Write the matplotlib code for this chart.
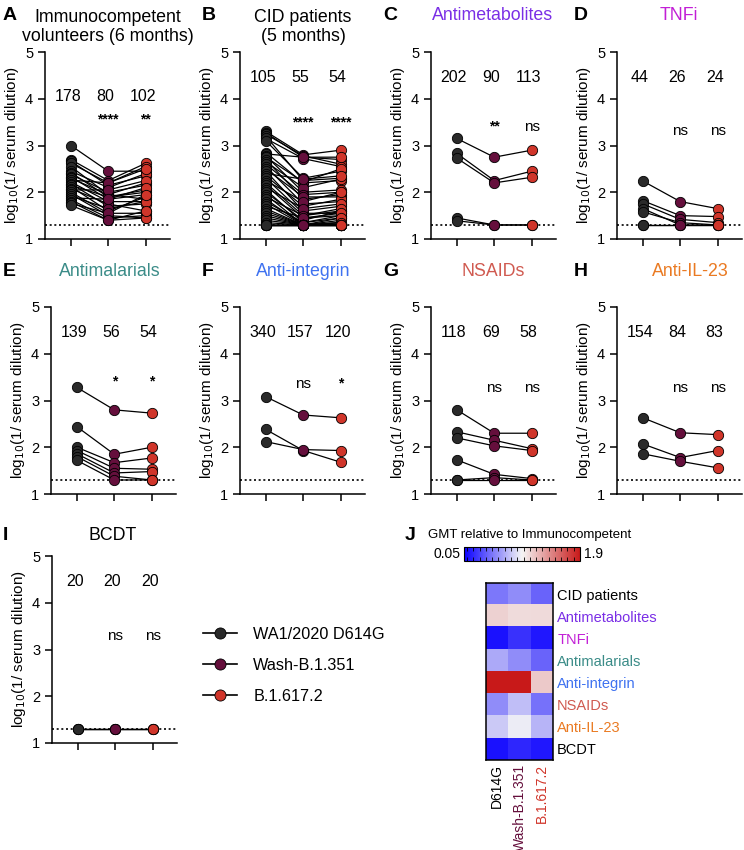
import numpy as np
import matplotlib
matplotlib.use("Agg")
import matplotlib.pyplot as plt
from matplotlib.colors import LinearSegmentedColormap
from matplotlib.lines import Line2D

plt.rcParams['font.family'] = ['Liberation Sans', 'DejaVu Sans']

variants = ["WA1/2020 D614G", "Wash-B.1.351", "B.1.617.2"]
variant_colors = ["#2a2a2a", "#650f3c", "#d0352a"]
lod = 1.3

# panel A - immunocompetent volunteers
a_d614g = [3.00, 2.70, 2.66, 2.62, 2.55, 2.45, 2.42, 2.38, 2.33, 2.30, 2.26, 2.22, 2.18,
           2.15, 2.12, 2.08, 2.05, 2.00, 1.96, 1.92, 1.88, 1.84, 1.80, 1.76, 1.72]
a_b1351 = [2.45, 2.25, 2.15, 2.20, 1.95, 2.10, 1.90, 2.00, 1.85, 1.95, 2.20, 1.80, 1.70,
           1.90, 1.60, 1.75, 2.05, 1.55, 1.50, 1.65, 1.85, 1.45, 1.40, 1.55, 1.40]
a_b16172 = [2.45, 2.62, 2.35, 2.55, 2.20, 2.40, 2.00, 2.15, 1.95, 1.85, 2.50, 1.80, 1.75,
            2.05, 1.90, 1.60, 2.25, 1.55, 1.45, 1.80, 2.10, 1.50, 1.45, 1.95, 1.60]

# panel B - CID patients
b_d614g = [3.30, 3.27, 3.24, 3.20, 3.15, 3.10, 2.85, 2.82, 2.78, 2.75, 2.70, 2.65, 2.60,
           2.55, 2.50, 2.45, 2.40, 2.35, 2.30, 2.25, 2.20, 2.15, 2.10, 2.05, 2.00, 1.95,
           1.90, 1.85, 1.80, 1.75, 1.70, 1.65, 1.60, 1.55, 1.50, 1.45, 1.40, 1.35, 1.30,
           1.30, 1.30, 1.30, 1.30, 1.30]
b_b1351 = [2.80, 2.75, 2.78, 2.25, 2.72, 2.30, 2.20, 2.75, 2.00, 2.22, 1.85, 2.10, 1.95,
           1.75, 1.90, 1.60, 2.28, 1.70, 1.55, 1.80, 1.50, 1.45, 1.65, 1.35, 1.40, 1.30,
           1.50, 1.30, 1.35, 1.30, 1.45, 1.30, 1.30, 1.30, 1.30, 1.30, 1.30, 1.30, 1.30,
           1.30, 1.30, 1.30, 1.30, 1.30]
b_b16172 = [2.90, 2.70, 2.60, 2.30, 2.55, 2.45, 2.25, 2.75, 2.05, 2.50, 1.95, 2.28, 2.00,
            1.80, 1.90, 1.70, 2.35, 1.85, 1.55, 2.00, 1.60, 1.50, 1.75, 1.45, 1.60, 1.35,
            1.65, 1.30, 1.50, 1.40, 1.55, 1.30, 1.35, 1.30, 1.45, 1.30, 1.30, 1.30, 1.35,
            1.30, 1.30, 1.30, 1.30, 1.30]

# C - antimetabolites
c_d614g = [3.15, 2.83, 2.73, 1.45, 1.39]
c_b1351 = [2.75, 2.25, 2.20, 1.30, 1.30]
c_b16172 = [2.90, 2.45, 2.32, 1.30, 1.30]

# D - TNFi
d_d614g = [2.24, 1.82, 1.75, 1.65, 1.58, 1.30, 1.30]
d_b1351 = [1.80, 1.50, 1.42, 1.30, 1.35, 1.30, 1.30]
d_b16172 = [1.65, 1.48, 1.35, 1.30, 1.30, 1.30, 1.30]

# E - antimalarials
e_d614g = [3.28, 2.44, 2.00, 1.93, 1.86, 1.80, 1.72]
e_b1351 = [2.80, 1.85, 1.67, 1.55, 1.45, 1.38, 1.30]
e_b16172 = [2.73, 2.00, 1.77, 1.53, 1.48, 1.30, 1.30]

# F - anti-integrin
f_d614g = [3.08, 2.38, 2.12]
f_b1351 = [2.69, 1.93, 1.95]
f_b16172 = [2.63, 1.68, 1.93]

# G - NSAIDs
g_d614g = [2.80, 2.33, 2.20, 1.73, 1.30, 1.30]
g_b1351 = [2.30, 2.15, 2.03, 1.42, 1.35, 1.30]
g_b16172 = [2.30, 1.97, 1.93, 1.33, 1.30, 1.30]

# H - anti-IL-23
h_d614g = [2.63, 2.07, 1.86]
h_b1351 = [2.31, 1.78, 1.70]
h_b16172 = [2.27, 1.93, 1.56]

# I - BCDT
i_d614g = [1.30, 1.30, 1.30]
i_b1351 = [1.30, 1.30, 1.30]
i_b16172 = [1.30, 1.30, 1.30]

gmt_labels = {
    "A": ["178", "80", "102"], "B": ["105", "55", "54"], "C": ["202", "90", "113"],
    "D": ["44", "26", "24"], "E": ["139", "56", "54"], "F": ["340", "157", "120"],
    "G": ["118", "69", "58"], "H": ["154", "84", "83"], "I": ["20", "20", "20"],
}
sig_labels = {
    "A": ["****", "**"], "B": ["****", "****"], "C": ["**", "ns"], "D": ["ns", "ns"],
    "E": ["*", "*"], "F": ["ns", "*"], "G": ["ns", "ns"], "H": ["ns", "ns"], "I": ["ns", "ns"],
}
titles = {
    "A": "Immunocompetent\nvolunteers (6 months)", "B": "CID patients\n(5 months)",
    "C": "Antimetabolites", "D": "TNFi", "E": "Antimalarials", "F": "Anti-integrin",
    "G": "NSAIDs", "H": "Anti-IL-23", "I": "BCDT",
}
title_colors = {
    "A": "black", "B": "black", "C": "#7a2ee6", "D": "#c21fd6", "E": "#3b8c88",
    "F": "#3f72f0", "G": "#d05a50", "H": "#ea7a22", "I": "black",
}
panel_data = {
    "A": (a_d614g, a_b1351, a_b16172), "B": (b_d614g, b_b1351, b_b16172),
    "C": (c_d614g, c_b1351, c_b16172), "D": (d_d614g, d_b1351, d_b16172),
    "E": (e_d614g, e_b1351, e_b16172), "F": (f_d614g, f_b1351, f_b16172),
    "G": (g_d614g, g_b1351, g_b16172), "H": (h_d614g, h_b1351, h_b16172),
    "I": (i_d614g, i_b1351, i_b16172),
}

# J heatmap - GMT relative to immunocompetent
heat_rows = ["CID patients", "Antimetabolites", "TNFi", "Antimalarials", "Anti-integrin",
             "NSAIDs", "Anti-IL-23", "BCDT"]
heat_row_colors = ["black", "#7a2ee6", "#c21fd6", "#3b8c88", "#3f72f0", "#d05a50",
                   "#ea7a22", "black"]
heat_cols = ["D614G", "Wash-B.1.351", "B.1.617.2"]
heat_col_colors = ["black", "#650f3c", "#d0352a"]
rel_d614g = [0.50, 1.12, 0.12, 0.69, 1.90, 0.58, 0.81, 0.12]
rel_b1351 = [0.58, 1.08, 0.24, 0.58, 1.90, 0.77, 0.94, 0.20]
rel_b16172 = [0.43, 1.09, 0.14, 0.43, 1.16, 0.48, 0.73, 0.14]

W, H = 744, 850
fig = plt.figure(figsize=(W / 100, H / 100), dpi=100)


def px_axes(left, top, w, h):
    return fig.add_axes([left / W, 1 - (top + h) / H, w / W, h / H])


# left spine x, top y (px)
layout = {
    "A": (45, 52), "B": (240, 52), "C": (431, 52), "D": (617, 52),
    "E": (51, 307), "F": (240, 307), "G": (431, 307), "H": (617, 307),
    "I": (52, 556),
}
num_y = {"A": 4.05}
sig_y = {"A": 3.55, "B": 3.50, "C": 3.40, "D": 3.30, "E": 3.40, "F": 3.36,
         "G": 3.27, "H": 3.27, "I": 3.29}
title_pos = {
    "A": (108, 27), "B": (303, 27), "C": (493, 16), "D": (679, 16),
    "E": (110, 272), "F": (303, 272), "G": (493, 272), "H": (690, 272),
    "I": (113, 535),
}
letter_x = {"A": 3, "B": 202, "C": 383, "D": 574, "E": 3, "F": 202, "G": 383, "H": 574, "I": 3}

for key, (lx, ty) in layout.items():
    ax = px_axes(lx, ty, 125, 187)
    d, w, b = panel_data[key]
    for v1, v2, v3 in zip(d, w, b):
        ax.plot([0, 1, 2], [v1, v2, v3], color="black", lw=0.9, zorder=2)
    for i, vals in enumerate([d, w, b]):
        ax.scatter(np.full(len(vals), i), vals, s=55, color=variant_colors[i],
                   edgecolor="black", linewidth=0.6, zorder=3)
    ax.axhline(lod, color="black", ls=(0, (1.2, 1.6)), lw=1.2, zorder=1)
    ax.set_xlim(-0.69, 2.65)
    ax.set_ylim(1, 5)
    ax.set_xticks([0, 1, 2])
    ax.set_xticklabels([])
    ax.set_yticks([1, 2, 3, 4, 5])
    ax.tick_params(labelsize=10.5, width=1.1, length=5)
    for s in ["top", "right"]:
        ax.spines[s].set_visible(False)
    for s in ["left", "bottom"]:
        ax.spines[s].set_linewidth(1.1)
    ax.set_ylabel("log$_{10}$(1/ serum dilution)", fontsize=11, labelpad=3)
    ny = num_y.get(key, 4.45)
    for i, t in enumerate(gmt_labels[key]):
        ax.text(i - 0.08, ny, t, ha="center", va="center", fontsize=11.5)
    for i, t in enumerate(sig_labels[key]):
        ax.text(i + 1, sig_y[key], t, ha="center", va="center",
                fontsize=11 if t == "ns" else 10, fontweight="bold" if t != "ns" else "normal")
    tx, tyy = title_pos[key]
    fig.text(tx / W, 1 - tyy / H, titles[key], ha="center", va="center", fontsize=12.8,
             color=title_colors[key], linespacing=1.15)
    fig.text(letter_x[key] / W, 1 - (16 if ty < 100 else (272 if ty < 400 else 535)) / H,
             key, ha="left", va="center", fontsize=14, fontweight="bold")

# legend
handles = [Line2D([], [], color="black", lw=1.2, marker="o", markersize=8,
                  markerfacecolor=c, markeredgecolor="black", markeredgewidth=0.6)
           for c in variant_colors]
fig.legend(handles, variants, loc="upper left", bbox_to_anchor=(203 / W, 1 - 627 / H),
           frameon=False, fontsize=11.7, handlelength=2.1, handletextpad=1.0,
           labelspacing=0.98, borderpad=0, borderaxespad=0)

# heatmap J
cmap = LinearSegmentedColormap.from_list("bwr_gmt", ["#0a00ff", "#f5f5f5", "#c81919"])
heat = np.array([rel_d614g, rel_b1351, rel_b16172]).T
hax = px_axes(486, 583, 67, 177)
im = hax.imshow(heat, cmap=cmap, vmin=0.05, vmax=1.9, aspect="auto", interpolation="nearest")
hax.set_xticks(range(len(heat_cols)))
hax.set_xticklabels(heat_cols, rotation=90, fontsize=10)
for lab, c in zip(hax.get_xticklabels(), heat_col_colors):
    lab.set_color(c)
hax.yaxis.tick_right()
hax.set_yticks(range(len(heat_rows)))
hax.set_yticklabels(heat_rows, fontsize=10.5)
for lab, c in zip(hax.get_yticklabels(), heat_row_colors):
    lab.set_color(c)
hax.tick_params(length=0, pad=3)
for s in hax.spines.values():
    s.set_linewidth(1.1)

cax = px_axes(464, 547, 116, 14)
cb = fig.colorbar(im, cax=cax, orientation="horizontal")
cb.set_ticks(np.arange(0.1, 1.9, 0.1))
cb.ax.tick_params(direction="in", length=3, width=0.6, top=True, bottom=True,
                  labelbottom=False)
cb.outline.set_linewidth(0.8)
fig.text(460 / W, 1 - 554 / H, "0.05", ha="right", va="center", fontsize=10)
fig.text(584 / W, 1 - 554 / H, "1.9", ha="left", va="center", fontsize=10)
fig.text(428 / W, 1 - 535 / H, "GMT relative to Immunocompetent", ha="left", va="center",
         fontsize=9.5)
fig.text(405 / W, 1 - 535 / H, "J", ha="left", va="center", fontsize=14, fontweight="bold")

fig.savefig("out.png", dpi=100)
